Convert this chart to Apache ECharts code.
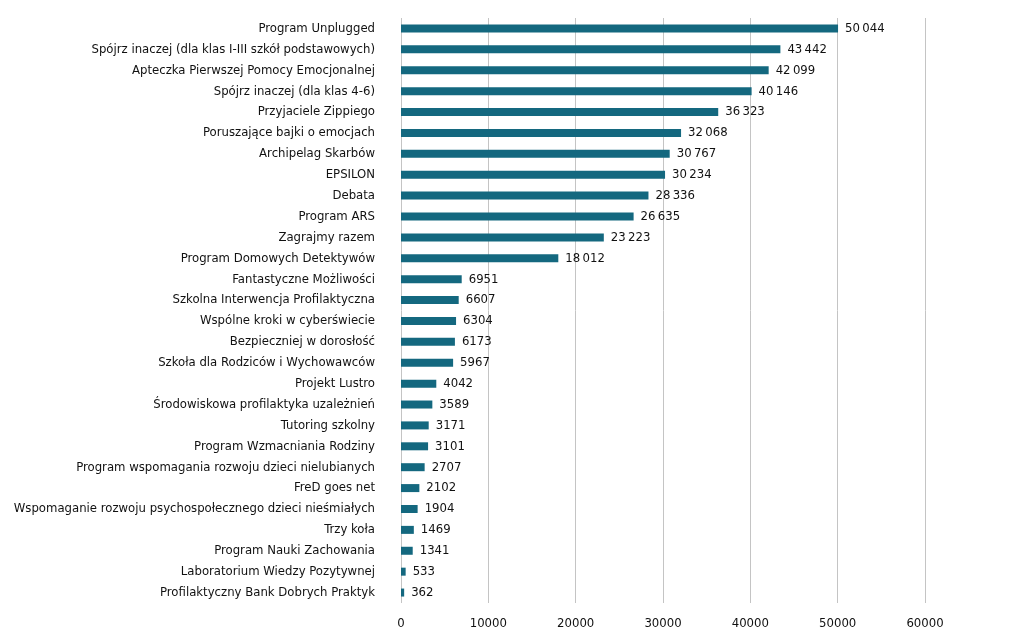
<!DOCTYPE html>
<html>
<head>
<meta charset="utf-8">
<script src="https://cdn.jsdelivr.net/npm/echarts@6/dist/echarts.min.js"></script>
<style>
html, body {margin: 0; padding: 0; background: #fff;}
#wykres {width: 1024px; height: 635px;}
</style>
</head>
<body>
<div id="wykres"></div>
<script>
// programy profilaktyczne - liczba uczestników
var programy = ['Program Unplugged', 'Spójrz inaczej (dla klas I-III szkół podstawowych)', 'Apteczka Pierwszej Pomocy Emocjonalnej',
    'Spójrz inaczej (dla klas 4-6)', 'Przyjaciele Zippiego', 'Poruszające bajki o emocjach', 'Archipelag Skarbów', 'EPSILON', 'Debata',
    'Program ARS', 'Zagrajmy razem', 'Program Domowych Detektywów', 'Fantastyczne Możliwości', 'Szkolna Interwencja Profilaktyczna',
    'Wspólne kroki w cyberświecie', 'Bezpieczniej w dorosłość', 'Szkoła dla Rodziców i Wychowawców', 'Projekt Lustro',
    'Środowiskowa profilaktyka uzależnień', 'Tutoring szkolny', 'Program Wzmacniania Rodziny', 'Program wspomagania rozwoju dzieci nielubianych',
    'FreD goes net', 'Wspomaganie rozwoju psychospołecznego dzieci nieśmiałych', 'Trzy koła', 'Program Nauki Zachowania',
    'Laboratorium Wiedzy Pozytywnej', 'Profilaktyczny Bank Dobrych Praktyk'];
var uczestnicy = [50044, 43442, 42099, 40146, 36323, 32068, 30767, 30234, 28336, 26635, 23223, 18012, 6951, 6607, 6304, 6173, 5967,
    4042, 3589, 3171, 3101, 2707, 2102, 1904, 1469, 1341, 533, 362];
var osX = {min: 0, max: 60000, interval: 10000};

var czcionka = '"Liberation Sans Narrow", "DejaVu Sans Condensed", sans-serif';

function liczba(v) {//spacja jako separator tysięcy dla >= 10000
    if (v < 10000) return String(v);
    return String(v).replace(/\B(?=(\d{3})+(?!\d))/g, '\u2009');
}

var myChart = echarts.init(document.getElementById('wykres'));

option = {
    animation: false,
    grid: {left: 401, right: 99, top: 18, bottom: 32, containLabel: false, outerBoundsMode: 'none'},
    xAxis: {type: 'value', min: osX.min, max: osX.max, interval: osX.interval,
        axisLine: {show: false}, axisTick: {show: false},
        axisLabel: {color: '#111', fontFamily: czcionka, fontSize: 13, margin: 14, formatter: function (v) { return String(v); }},
        splitLine: {lineStyle: {color: '#c4c4c4', width: 1}}},
    yAxis: {type: 'category', data: programy, inverse: true,
        axisLine: {show: false}, axisTick: {show: false},
        axisLabel: {color: '#111', fontFamily: czcionka, fontSize: 13, margin: 26, interval: 0}},
    series: [{type: 'bar', data: uczestnicy, barWidth: 8, itemStyle: {color: '#14687f'},
        label: {show: true, position: 'right', distance: 7, color: '#111', fontFamily: czcionka, fontSize: 13,
            formatter: function (p) { return liczba(p.value); }}}]
};

myChart.setOption(option);
</script>
</body>
</html>
